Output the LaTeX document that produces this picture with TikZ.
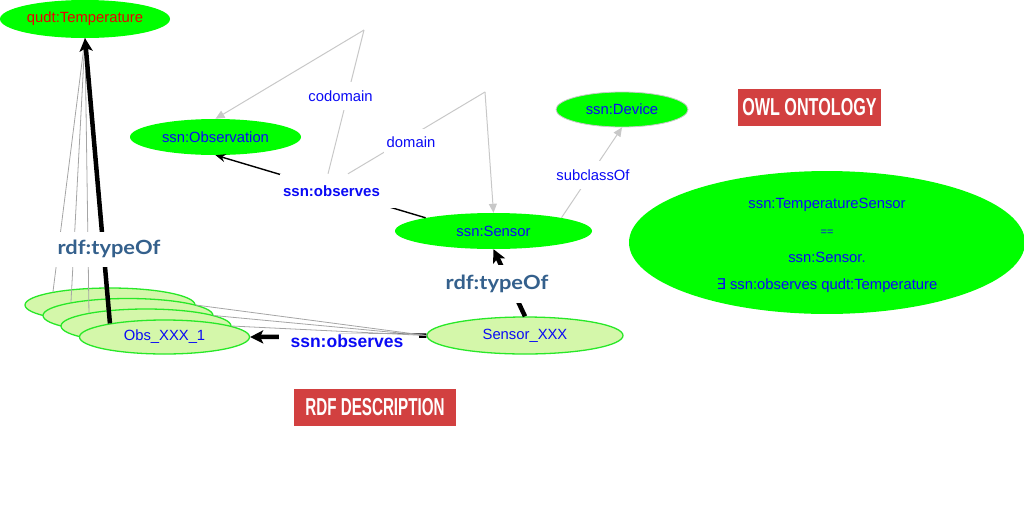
\documentclass[tikz,border=0pt]{standalone}
\usepackage{fontspec}
\setmainfont{Liberation Sans}
\newfontfamily\latofont{Lato}
\newfontfamily\dejavu{DejaVu Sans}
\usetikzlibrary{shapes.geometric,arrows.meta,calc}
\definecolor{bgreen}{RGB}{0,255,0}
\definecolor{lgreen}{RGB}{212,247,170}
\definecolor{igreen}{RGB}{40,232,40}
\definecolor{nblue}{RGB}{10,10,245}
\definecolor{tblue}{RGB}{52,96,140}
\definecolor{lgray}{RGB}{200,200,200}
\definecolor{mgray}{RGB}{165,165,165}
\definecolor{boxred}{RGB}{210,64,64}
\definecolor{tred}{RGB}{235,0,0}
\tikzset{
  onto/.style={ellipse, fill=bgreen, draw=none, inner sep=0, text=nblue},
  inst/.style={ellipse, fill=lgreen, draw=igreen, line width=1.3, inner sep=0, text=nblue},
  thinl/.style={draw=mgray, line width=0.8},
  grayl/.style={draw=lgray, line width=1},
  grayarrow/.style={draw=lgray, line width=1, -{Triangle[length=9pt,width=8pt]}},
  blackarrow/.style={draw=black, line width=1.4, -{Stealth[length=10pt,width=8pt]}},
  thickarrow/.style={draw=black, line width=4.5, -{Stealth[length=13pt,width=13pt,inset=3pt]}},
  lbl/.style={fill=white, inner xsep=3, inner ysep=0, minimum height=28, text=nblue},
  boldlbl/.style={fill=white, inner xsep=0, inner ysep=0, text=nblue, font=\fontsize{15}{17}\selectfont\bfseries},
  typeof/.style={fill=white, inner xsep=3, inner ysep=0, text=tblue, font={\latofont\fontsize{19.5}{21}\selectfont\bfseries}},
  redbox/.style={fill=boxred, text=white, inner sep=0, font=\fontsize{24.5}{25}\selectfont\bfseries},
}
\begin{document}
\begin{tikzpicture}[x=1pt,y=-1pt, font=\fontsize{14.8}{17}\selectfont]
\useasboundingbox (0,0) rectangle (1024,509);
% ontology nodes
\node[onto, text=tred, minimum width=170, minimum height=38] (temp) at (85,19) {qudt:Temperature};
\node[onto, minimum width=171, minimum height=36] (ssnobs) at (215.5,137) {ssn:Observation};
\node[onto, draw=lgray, line width=0.8, minimum width=132, minimum height=35] (ssndev) at (622,109.5) {ssn:Device};
\node[onto, minimum width=197, minimum height=36] (ssnsensor) at (493.5,231) {ssn:Sensor};
\node[onto, minimum width=396, minimum height=141, align=center, font=\fontsize{14.8}{27}\selectfont] (tsensor) at (827,242.5)
  {\rule{0pt}{17pt}ssn:TemperatureSensor\\ {\fontsize{11}{11}\selectfont ==}\\ ssn:Sensor.\\ {\dejavu ∃} ssn:observes qudt:Temperature};
% instance nodes
\node[inst, minimum width=170, minimum height=34] (obsA) at (110,305) {};
\node[inst, minimum width=170, minimum height=34] (obsB) at (128,315.5) {};
\node[inst, minimum width=170, minimum height=34] (obsC) at (146,326) {};
\node[inst, minimum width=170, minimum height=34] (obs1) at (164.5,337) {Obs\_XXX\_1};
\node[inst, minimum width=196, minimum height=37] (sxxx) at (525,335.5) {Sensor\_XXX};
% typeOf links to qudt:Temperature
\draw[thinl] (obsA.167) -- (temp.south);
\draw[thinl] (obsB.167) -- (temp.south);
\draw[thinl] (obsC.167) -- (temp.south);
\draw[thickarrow] (obs1.166) -- (temp.south);
\node[typeof, minimum height=35] (tlbl1) at (109,249) {\scalebox{1.12}[1]{rdf:typeOf}};
% ontology property
\draw[blackarrow] (ssnsensor.169) -- (ssnobs.south);
\node[boldlbl, minimum height=34] (obslbl) at (337.5,191) {\hspace*{3pt}ssn:observes\hspace*{15pt}};
\coordinate (cdtop) at (364,30);
\coordinate (dtop) at (485,92);
\draw[grayl] ($(obslbl.north)+(-9.5,0)$) -- (cdtop);
\draw[grayarrow] (cdtop) -- (ssnobs.north);
\node[lbl] (cdlbl) at (340.5,96) {codomain};
\draw[grayl] ($(obslbl.north)+(10.5,0)$) -- (dtop);
\draw[grayarrow] (dtop) -- (ssnsensor.north);
\node[lbl] (dlbl) at (411,142.5) {domain};
\draw[grayarrow] (ssnsensor.11) -- (ssndev.south);
\node[lbl] (sclbl) at (593,175) {subclassOf};
% Sensor_XXX typeOf
\draw[thickarrow] (sxxx.north) -- (ssnsensor.south);
\node[typeof, minimum height=38] (tlbl2) at (497,284) {\scalebox{1.12}[1]{rdf:typeOf}};
% observes instance link
\draw[thickarrow] (sxxx.west) -- (obs1.east);
\node[boldlbl, inner ysep=1, font=\fontsize{17.5}{19}\selectfont\bfseries] (obslbl2) at (349,341) {\hspace*{12pt}ssn:observes\hspace*{16pt}};
\draw[thinl] (sxxx.west) -- (obsA.east);
\draw[thinl] (sxxx.west) -- (obsB.east);
\draw[thinl] (sxxx.west) -- (obsC.east);
% section boxes
\node[redbox, minimum width=143, minimum height=37] (owl) at (809.5,107.5) {\scalebox{0.66}[1]{OWL ONTOLOGY}};
\node[redbox, minimum width=162, minimum height=37] (rdfd) at (375,407.5) {\scalebox{0.62}[1]{RDF DESCRIPTION}};
\end{tikzpicture}
\end{document}
